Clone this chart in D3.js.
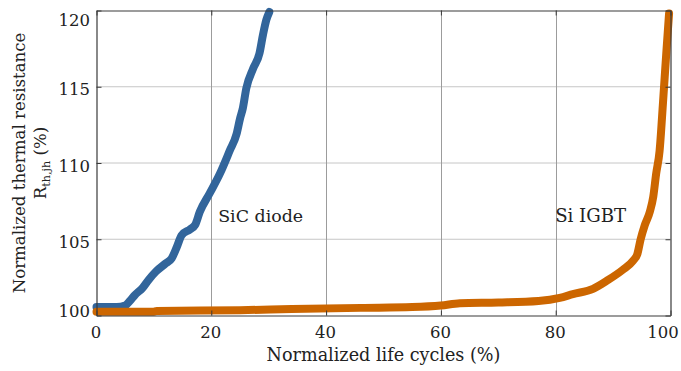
<!DOCTYPE html>
<html>
<head>
<meta charset="utf-8">
<script src="https://cdn.jsdelivr.net/npm/d3@7"></script>
</head>
<body style="margin:0">
<svg id="chart" width="681" height="371" style="display:block"></svg>
<script>
// Normalized life cycles (%) and normalized junction-to-heatsink thermal resistance (%)
const sicCycles = [0, 3.5, 5.0, 5.8, 6.7, 8.0, 9.0, 10.4, 12.0, 13.1, 14.0, 14.8, 16.3, 17.2, 18.0, 19.7, 21.5, 23.2, 24.4, 25.0, 25.5, 26.1, 27.3, 28.4, 29.0, 29.6, 30.1];
const sicRth    = [100.55, 100.55, 100.65, 100.95, 101.35, 101.8, 102.3, 102.9, 103.4, 103.75, 104.5, 105.25, 105.65, 105.95, 106.8, 108.0, 109.3, 110.8, 111.9, 112.9, 113.6, 114.9, 116.2, 117.2, 118.4, 119.4, 119.9];

const igbtCycles = [0, 10, 10.5, 25, 34, 46, 55, 60, 63.3, 70, 77, 80.7, 83, 86.5, 89, 91.7, 93.5, 94.2, 94.8, 95.5, 96.4, 97.0, 97.5, 98.1, 98.7, 99.3, 99.75];
const igbtRth    = [100.25, 100.25, 100.3, 100.35, 100.42, 100.5, 100.55, 100.65, 100.8, 100.85, 100.95, 101.15, 101.4, 101.75, 102.3, 103.0, 103.6, 104.0, 105.0, 105.9, 106.8, 107.8, 109.3, 110.8, 114.0, 117.4, 119.8];

const xTicks = [0, 20, 40, 60, 80, 100];
const yTicks = [100, 105, 110, 115, 120];

const seriesNames = ["SiC diode", "Si IGBT"];
const seriesColors = ["#32659b", "#cc6600"];

const FONT = "DejaVu Serif";
const BASE = 21.5;

// scale a text's font size so it spans the wanted width
function fitFactor(el, width) {
  const w = el.getComputedTextLength();
  return w > 0 ? width / w : 1;
}

const svg = d3.select("#chart");
const plotL = 96.5, plotR = 670.5, plotT = 10.5, plotB = 315.5;

const x = d3.scaleLinear().domain([0, 100]).range([plotL, plotR]);
const y = d3.scaleLinear().domain([100, 120]).range([plotB, plotT]);

// grid
const grid = svg.append("g");
grid.selectAll("line.h").data(yTicks.slice(1, -1)).join("line")
  .attr("x1", plotL).attr("x2", plotR)
  .attr("y1", d => y(d)).attr("y2", d => y(d))
  .attr("stroke", "#c6c6c6").attr("stroke-width", 1);
grid.selectAll("line.v").data(xTicks.slice(1, -1)).join("line")
  .attr("y1", plotT).attr("y2", plotB)
  .attr("x1", d => Math.round(x(d)) + 0.5).attr("x2", d => Math.round(x(d)) + 0.5)
  .attr("stroke", "#9c9c9c").attr("stroke-width", 1);

// curves
const line = d3.line().x(d => x(d[0])).y(d => y(d[1])).curve(d3.curveMonotoneX);
const series = [
  d3.zip(sicCycles, sicRth),
  d3.zip(igbtCycles, igbtRth)
];
svg.append("g").selectAll("path").data(series).join("path")
  .attr("d", line)
  .attr("fill", "none")
  .attr("stroke", (d, i) => seriesColors[i])
  .attr("stroke-width", 8)
  .attr("stroke-linecap", "round")
  .attr("stroke-linejoin", "round");

// axes box with inward ticks
const axisColor = "#3a3a3a";
const xAxis = d3.axisBottom(x).tickValues(xTicks).tickSizeInner(-5).tickSizeOuter(0).tickFormat(d3.format("d"));
const yAxis = d3.axisLeft(y).tickValues(yTicks).tickSizeInner(-5).tickSizeOuter(0).tickFormat(d3.format("d"));
const xTop = d3.axisTop(x).tickValues(xTicks).tickSizeInner(-5).tickSizeOuter(0).tickFormat("");
const yRight = d3.axisRight(y).tickValues(yTicks).tickSizeInner(-5).tickSizeOuter(0).tickFormat("");

function style(g) {
  g.attr("font-family", FONT).attr("font-size", BASE);
  g.select(".domain").attr("stroke", axisColor).attr("stroke-width", 1.2);
  g.selectAll(".tick line").attr("stroke", axisColor);
  g.selectAll(".tick text").attr("fill", "#222");
}

const gx = svg.append("g").attr("transform", `translate(0,${plotB})`).call(xAxis).call(style);
const gy = svg.append("g").attr("transform", `translate(${plotL},0)`).call(yAxis).call(style);
svg.append("g").attr("transform", `translate(0,${plotT})`).call(xTop).call(style);
svg.append("g").attr("transform", `translate(${plotR},0)`).call(yRight).call(style);

// tick label size from the width of the "120" label
const k120 = fitFactor(gy.selectAll(".tick text").filter(d => d === 120).node(), 31.5);
gx.attr("font-size", BASE * k120);
gy.attr("font-size", BASE * k120);

// bottom axis: the last label is pulled inside the figure edge
gx.selectAll(".tick text").attr("dy", 0).attr("y", 22.5)
  .attr("x", d => d === 100 ? -8 : -1);
// left axis: end labels are pulled inward so they stay clear of the corners
gy.selectAll(".tick text").attr("x", -6.5).attr("dy", 0)
  .attr("y", d => d === 100 ? 1 : (d === 120 ? 15 : 8));

// axis titles
const xTitle = svg.append("text")
  .attr("x", (plotL + plotR) / 2).attr("y", 361)
  .attr("text-anchor", "middle")
  .attr("font-family", FONT).attr("font-size", BASE).attr("fill", "#222")
  .text("Normalized life cycles (%)");
xTitle.attr("font-size", BASE * fitFactor(xTitle.node(), 234));

const yTitle = svg.append("g").attr("transform", `translate(0,${(plotT + plotB) / 2}) rotate(-90)`)
  .attr("font-family", FONT).attr("font-size", BASE).attr("fill", "#222");
const t1 = yTitle.append("text")
  .attr("x", 0).attr("y", 25)
  .attr("text-anchor", "middle")
  .text("Normalized thermal resistance");
const kY = fitFactor(t1.node(), 261);
yTitle.attr("font-size", BASE * kY);
const r = yTitle.append("text")
  .attr("x", 0).attr("y", 45.5)
  .attr("text-anchor", "middle");
r.append("tspan").text("R");
r.append("tspan").attr("dy", 4).attr("font-size", 14.5 * kY).text("th,jh");
r.append("tspan").attr("dy", -4).text(" (%)");

// series labels
const lab1 = svg.append("text").attr("x", x(21.2)).attr("y", y(106.15))
  .attr("font-family", FONT).attr("font-size", BASE).attr("fill", "#222")
  .text(seriesNames[0]);
lab1.attr("font-size", BASE * fitFactor(lab1.node(), 85));
const lab2 = svg.append("text").attr("x", x(79.9)).attr("y", y(106.15))
  .attr("font-family", FONT).attr("font-size", BASE).attr("fill", "#222")
  .text(seriesNames[1]);
lab2.attr("font-size", BASE * fitFactor(lab2.node(), 71));
</script>
</body>
</html>
